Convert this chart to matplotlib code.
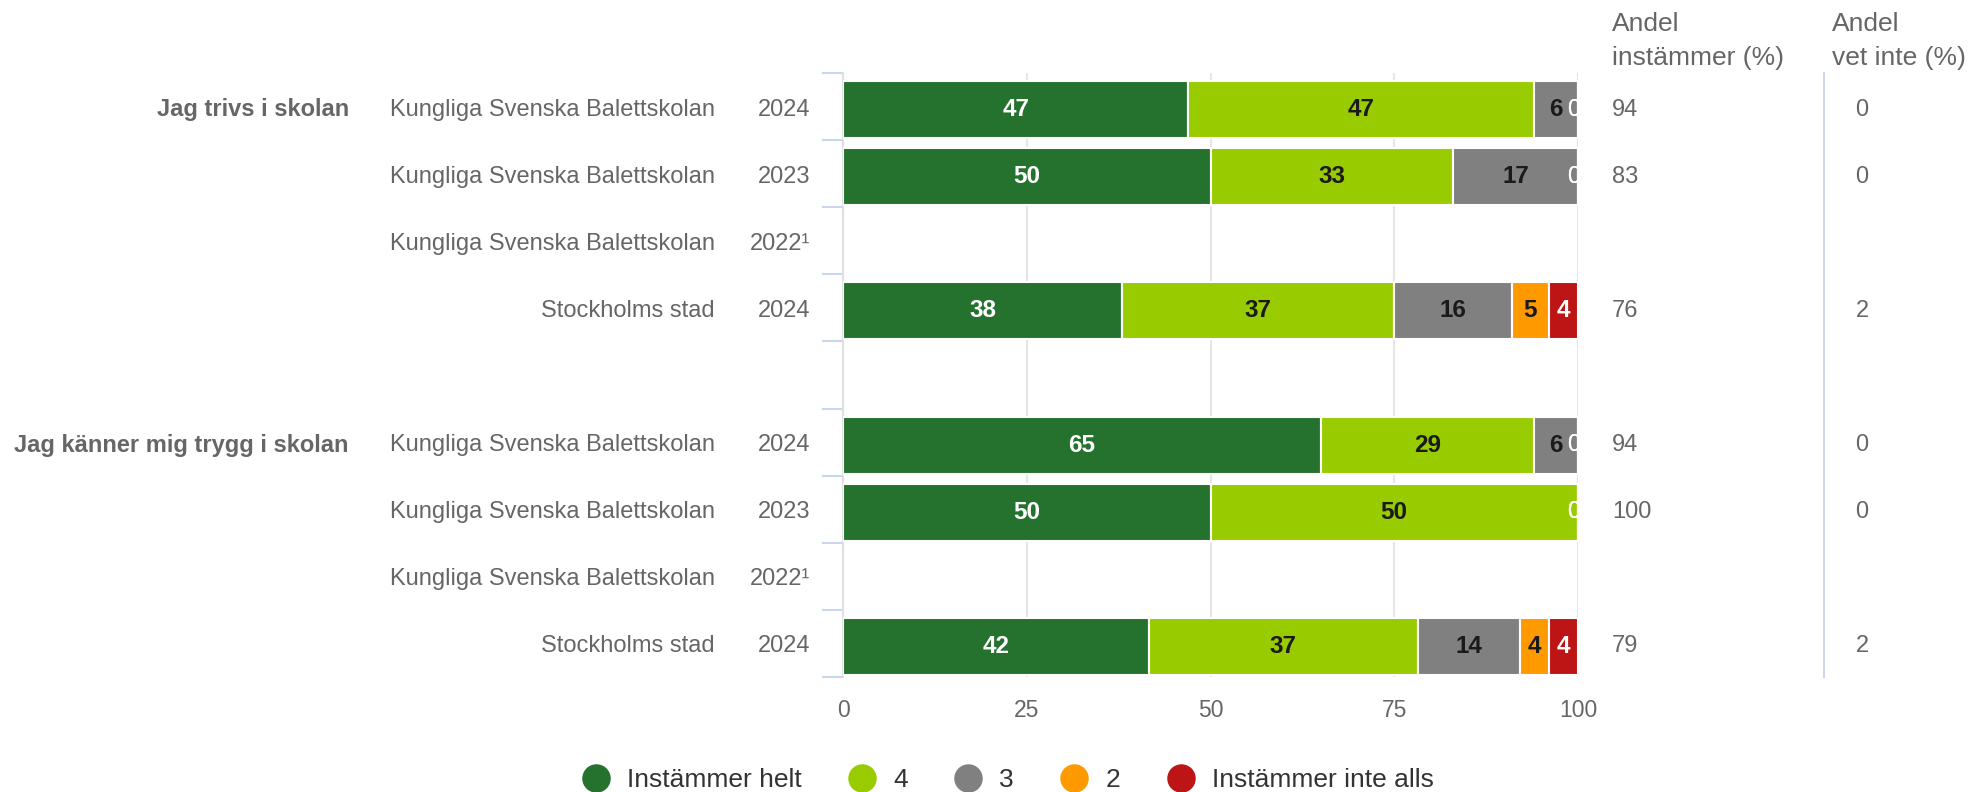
import matplotlib
matplotlib.use("Agg")
import matplotlib.pyplot as plt
import numpy as np
from matplotlib.lines import Line2D
from matplotlib.transforms import blended_transform_factory

plt.rcParams['font.family'] = ['Liberation Sans', 'DejaVu Sans']

# data
groups = ["Jag trivs i skolan", "Jag känner mig trygg i skolan"]
units = ["Kungliga Svenska Balettskolan", "Kungliga Svenska Balettskolan",
         "Kungliga Svenska Balettskolan", "Stockholms stad"] * 2
years = ["2024", "2023", "2022¹", "2024"] * 2
series_names = ["Instämmer helt", "4", "3", "2", "Instämmer inte alls"]
series_colors = ["#25722e", "#99cc00", "#808080", "#ff9900", "#bd1515"]
label_colors = ["white", "#1a1a1a", "#1a1a1a", "#1a1a1a", "white"]

nan = np.nan
helt = [47, 50, nan, 38, 65, 50, nan, 42]
s4 = [47, 33, nan, 37, 29, 50, nan, 37]
s3 = [6, 17, nan, 16, 6, 0, nan, 14]
s2 = [0, 0, nan, 5, 0, 0, nan, 4]
inte = [0, 0, nan, 4, 0, 0, nan, 4]
andel_instammer = [94, 83, nan, 76, 94, 100, nan, 79]
andel_vet_inte = [0, 0, nan, 2, 0, 0, nan, 2]

rows = [0, 1, 2, 3, 5, 6, 7, 8]  # row 4 is the gap between the questions
shift = 0.045  # bars sit a few px below the row centre in the original

W, H = 1975, 792
fig = plt.figure(figsize=(W / 100, H / 100), dpi=100)
ax = fig.add_axes([843 / W, 1 - 677 / H, (1578 - 843) / W, (677 - 73) / H])

ypos = np.array(rows) + shift
values = np.array([helt, s4, s3, s2, inte], dtype=float)
totals = np.nansum(values, axis=0)
left = np.zeros(len(rows))
for k in range(len(series_names)):
    width = values[k] / np.where(totals > 0, totals, 1) * 100
    ok = ~np.isnan(width)
    ax.barh(ypos[ok], width[ok], left=left[ok], height=0.85,
            color=series_colors[k], edgecolor="white", linewidth=1.5, zorder=3)
    for i in range(len(rows)):
        if not ok[i]:
            continue
        if values[k][i] == 0:
            ax.annotate("0", (left[i], ypos[i]), xytext=(-4, 0), textcoords="offset pixels",
                        ha="center", va="center", color="white", fontsize=17, zorder=5)
        else:
            ax.text(left[i] + width[i] / 2, ypos[i], "%d" % values[k][i], ha="center",
                    va="center", color=label_colors[k], fontsize=17.5,
                    fontweight="bold", zorder=5)
    left = left + np.nan_to_num(width)

ax.set_xlim(0, 100)
ax.set_ylim(8.5, -0.5)
ax.set_xticks([0, 25, 50, 75, 100])
ax.set_yticks(np.arange(-0.5, 9, 1))
ax.tick_params(axis="x", length=0, pad=16, labelsize=16.5, labelcolor="#666666")
ax.tick_params(axis="y", length=15, width=1.5, color="#ccd6eb", labelleft=False)
ax.xaxis.grid(True, color="#e6e6e6", linewidth=1.5)
ax.set_axisbelow(True)
for side in ["top", "right", "bottom"]:
    ax.spines[side].set_visible(False)
ax.spines["left"].set_color("#e0e0e0")
ax.spines["left"].set_linewidth(1.5)

# labels left of the bars and the two value columns
tr = blended_transform_factory(fig.transFigure, ax.transData)
for g, r in zip(groups, [0, 5]):
    fig.text(349 / W, r + shift, g, transform=tr, ha="right", va="center",
             fontsize=17, fontweight="bold", color="#666666")
for i, r in enumerate(ypos):
    fig.text(715 / W, r, units[i], transform=tr, ha="right", va="center",
             fontsize=17, color="#666666")
    fig.text(810 / W, r, years[i], transform=tr, ha="right", va="center",
             fontsize=17, color="#666666")
    if not np.isnan(andel_instammer[i]):
        fig.text(1612 / W, r, "%d" % andel_instammer[i], transform=tr, ha="left",
                 va="center", fontsize=17, color="#666666")
    if not np.isnan(andel_vet_inte[i]):
        fig.text(1862 / W, r, "%d" % andel_vet_inte[i], transform=tr, ha="center",
                 va="center", fontsize=17, color="#666666")

# column headers
fig.text(1612 / W, 1 - 24 / H, "Andel", ha="left", va="center", fontsize=19, color="#666666")
fig.text(1612 / W, 1 - 58 / H, "instämmer (%)", ha="left", va="center", fontsize=19, color="#666666")
fig.text(1832 / W, 1 - 24 / H, "Andel", ha="left", va="center", fontsize=19, color="#666666")
fig.text(1832 / W, 1 - 58 / H, "vet inte (%)", ha="left", va="center", fontsize=19, color="#666666")
fig.add_artist(Line2D([1824 / W, 1824 / W], [1 - 73 / H, 1 - 677 / H],
                      color="#ccd6eb", linewidth=1.5))

handles = [Line2D([], [], linestyle="none", marker="o", markersize=19.5,
                  markerfacecolor=c, markeredgecolor=c) for c in series_colors]
leg = fig.legend(handles, series_names, loc="center", bbox_to_anchor=(1008 / W, 1 - 780 / H),
                 ncol=5, frameon=False, fontsize=19, handlelength=1.0,
                 handletextpad=0.67, columnspacing=1.8)
for t in leg.get_texts():
    t.set_color("#333333")

fig.savefig("out.png", dpi=100)
